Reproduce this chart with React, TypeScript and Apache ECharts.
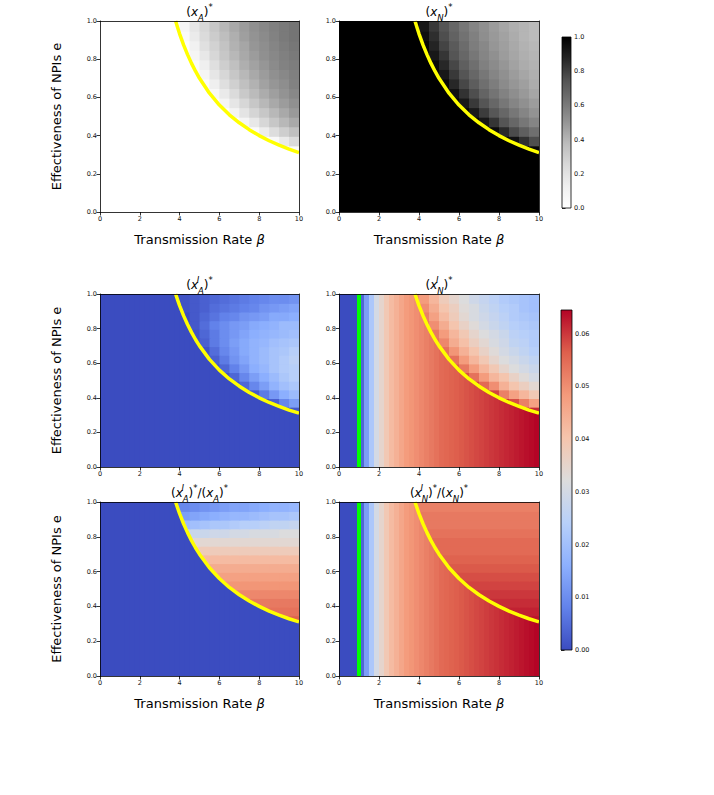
import React, { useEffect, useRef } from 'react';
import * as echarts from 'echarts';

// ---------- data ----------
// fine beta columns for the part of every panel that lies below the yellow curve
const BETA_FINE = [0.125, 0.375, 0.625, 0.875, 1.125, 1.375, 1.625, 1.875, 2.125, 2.375, 2.625, 2.875, 3.125, 3.375, 3.625, 3.875, 4.125, 4.375, 4.625, 4.875, 5.125, 5.375, 5.625, 5.875, 6.125, 6.375, 6.625, 6.875, 7.125, 7.375, 7.625, 7.875, 8.125, 8.375, 8.625, 8.875, 9.125, 9.375, 9.625, 9.875];
// cells for the part above the yellow curve
const BETA_CELLS = [0.25, 0.75, 1.25, 1.75, 2.25, 2.75, 3.25, 3.75, 4.25, 4.75, 5.25, 5.75, 6.25, 6.75, 7.25, 7.75, 8.25, 8.75, 9.25, 9.75];
const E_CELLS = [0.025, 0.075, 0.125, 0.175, 0.225, 0.275, 0.325, 0.375, 0.425, 0.475, 0.525, 0.575, 0.625, 0.675, 0.725, 0.775, 0.825, 0.875, 0.925, 0.975];

// yellow threshold curve
const CURVE_BETA = [3.8, 3.9, 4.0, 4.2, 4.4, 4.6, 4.8, 5.0, 5.5, 6.0, 6.5, 7.0, 7.5, 8.0, 8.5, 9.0, 9.5, 10.0];
const CURVE_E = [1.0, 0.966, 0.933, 0.875, 0.824, 0.778, 0.737, 0.70, 0.622, 0.56, 0.509, 0.467, 0.431, 0.40, 0.373, 0.35, 0.329, 0.311];
// green line at beta = 1
const GREEN_BETA = [1, 1];
const GREEN_E = [0, 1];

const CB1_TICKS = [0, 0.2, 0.4, 0.6, 0.8, 1.0];
const CB2_TICKS = [0, 0.01, 0.02, 0.03, 0.04, 0.05, 0.06];
const CB2_MAX = 0.0645;

// below-curve profiles (one value per BETA_FINE column)
const XA_BELOW = [0,0,0,0,0,0,0,0,0,0, 0,0,0,0,0,0,0,0,0,0, 0,0,0,0,0,0,0,0,0,0, 0,0,0,0,0,0,0,0,0,0];
const XN_BELOW = [1,1,1,1,1,1,1,1,1,1, 1,1,1,1,1,1,1,1,1,1, 1,1,1,1,1,1,1,1,1,1, 1,1,1,1,1,1,1,1,1,1];
const XAI_BELOW = [0,0,0,0,0,0,0,0,0,0, 0,0,0,0,0,0,0,0,0,0, 0,0,0,0,0,0,0,0,0,0, 0,0,0,0,0,0,0,0,0,0];
const XNI_BELOW = [0, 0, 0, 0, 0.004, 0.013, 0.022, 0.030, 0.035, 0.039, 0.042, 0.044, 0.046, 0.048, 0.049, 0.050, 0.051, 0.052, 0.053, 0.054, 0.055, 0.0555, 0.056, 0.0565, 0.057, 0.0575, 0.058, 0.0585, 0.059, 0.0595, 0.060, 0.0605, 0.061, 0.0615, 0.062, 0.0625, 0.063, 0.0635, 0.064, 0.0645];
const RA_BELOW = [0,0,0,0,0,0,0,0,0,0, 0,0,0,0,0,0,0,0,0,0, 0,0,0,0,0,0,0,0,0,0, 0,0,0,0,0,0,0,0,0,0];
const RN_BELOW = [0, 0, 0, 0, 0.004, 0.013, 0.022, 0.030, 0.035, 0.039, 0.042, 0.044, 0.046, 0.048, 0.049, 0.050, 0.051, 0.052, 0.053, 0.054, 0.055, 0.0555, 0.056, 0.0565, 0.057, 0.0575, 0.058, 0.0585, 0.059, 0.0595, 0.060, 0.0605, 0.061, 0.0615, 0.062, 0.0625, 0.063, 0.0635, 0.064, 0.0645];

// above-curve cells: rows = E_CELLS ascending, columns = BETA_CELLS; _ = cell entirely below the curve
const _ = null;
const XA_ABOVE = [
  [_,_,_,_,_, _,_,_,_,_, _,_,_,_,_, _,_,_,_,_],
  [_,_,_,_,_, _,_,_,_,_, _,_,_,_,_, _,_,_,_,_],
  [_,_,_,_,_, _,_,_,_,_, _,_,_,_,_, _,_,_,_,_],
  [_,_,_,_,_, _,_,_,_,_, _,_,_,_,_, _,_,_,_,_],
  [_,_,_,_,_, _,_,_,_,_, _,_,_,_,_, _,_,_,_,_],
  [_,_,_,_,_, _,_,_,_,_, _,_,_,_,_, _,_,_,_,_],
  [_,_,_,_,_, _,_,_,_,_, _,_,_,_,_, _,_,_,0.02,0.03],
  [_,_,_,_,_, _,_,_,_,_, _,_,_,_,_, _,0.02,0.06,0.16,0.24],
  [_,_,_,_,_, _,_,_,_,_, _,_,_,_,0.02, 0.04,0.14,0.23,0.30,0.36],
  [_,_,_,_,_, _,_,_,_,_, _,_,_,0.02,0.08, 0.17,0.26,0.33,0.39,0.44],
  [_,_,_,_,_, _,_,_,_,_, _,_,0.02,0.09,0.19, 0.27,0.33,0.39,0.44,0.49],
  [_,_,_,_,_, _,_,_,_,_, _,0.02,0.08,0.18,0.26, 0.33,0.39,0.44,0.48,0.52],
  [_,_,_,_,_, _,_,_,_,_, 0.02,0.06,0.16,0.24,0.32, 0.38,0.43,0.47,0.51,0.55],
  [_,_,_,_,_, _,_,_,_,_, 0.03,0.13,0.22,0.29,0.36, 0.41,0.46,0.50,0.53,0.57],
  [_,_,_,_,_, _,_,_,_,0.02, 0.08,0.18,0.26,0.33,0.39, 0.44,0.48,0.52,0.55,0.58],
  [_,_,_,_,_, _,_,_,_,0.03, 0.13,0.22,0.30,0.36,0.42, 0.46,0.50,0.54,0.57,0.59],
  [_,_,_,_,_, _,_,_,0.02,0.08, 0.17,0.26,0.33,0.39,0.44, 0.48,0.52,0.55,0.58,0.60],
  [_,_,_,_,_, _,_,_,0.02,0.12, 0.21,0.28,0.35,0.41,0.45, 0.50,0.53,0.56,0.59,0.61],
  [_,_,_,_,_, _,_,0.01,0.05,0.15, 0.24,0.31,0.37,0.42,0.47, 0.51,0.54,0.57,0.60,0.62],
  [_,_,_,_,_, _,_,0.01,0.08,0.18, 0.26,0.33,0.39,0.44,0.48, 0.52,0.55,0.58,0.60,0.62],
];

const XN_ABOVE = [
  [_,_,_,_,_, _,_,_,_,_, _,_,_,_,_, _,_,_,_,_],
  [_,_,_,_,_, _,_,_,_,_, _,_,_,_,_, _,_,_,_,_],
  [_,_,_,_,_, _,_,_,_,_, _,_,_,_,_, _,_,_,_,_],
  [_,_,_,_,_, _,_,_,_,_, _,_,_,_,_, _,_,_,_,_],
  [_,_,_,_,_, _,_,_,_,_, _,_,_,_,_, _,_,_,_,_],
  [_,_,_,_,_, _,_,_,_,_, _,_,_,_,_, _,_,_,_,_],
  [_,_,_,_,_, _,_,_,_,_, _,_,_,_,_, _,_,_,0.98,0.97],
  [_,_,_,_,_, _,_,_,_,_, _,_,_,_,_, _,0.98,0.94,0.84,0.76],
  [_,_,_,_,_, _,_,_,_,_, _,_,_,_,0.98, 0.96,0.86,0.77,0.70,0.64],
  [_,_,_,_,_, _,_,_,_,_, _,_,_,0.98,0.92, 0.83,0.74,0.67,0.61,0.56],
  [_,_,_,_,_, _,_,_,_,_, _,_,0.98,0.91,0.81, 0.73,0.67,0.61,0.56,0.51],
  [_,_,_,_,_, _,_,_,_,_, _,0.98,0.92,0.82,0.74, 0.67,0.61,0.56,0.52,0.48],
  [_,_,_,_,_, _,_,_,_,_, 0.98,0.94,0.84,0.76,0.68, 0.62,0.57,0.53,0.49,0.45],
  [_,_,_,_,_, _,_,_,_,_, 0.97,0.87,0.78,0.71,0.64, 0.59,0.54,0.50,0.47,0.43],
  [_,_,_,_,_, _,_,_,_,0.98, 0.92,0.82,0.74,0.67,0.61, 0.56,0.52,0.48,0.45,0.42],
  [_,_,_,_,_, _,_,_,_,0.97, 0.87,0.78,0.70,0.64,0.58, 0.54,0.50,0.46,0.43,0.41],
  [_,_,_,_,_, _,_,_,0.98,0.92, 0.83,0.74,0.67,0.61,0.56, 0.52,0.48,0.45,0.42,0.40],
  [_,_,_,_,_, _,_,_,0.98,0.88, 0.79,0.72,0.65,0.59,0.55, 0.50,0.47,0.44,0.41,0.39],
  [_,_,_,_,_, _,_,0.99,0.95,0.85, 0.76,0.69,0.63,0.58,0.53, 0.49,0.46,0.43,0.40,0.38],
  [_,_,_,_,_, _,_,0.99,0.92,0.82, 0.74,0.67,0.61,0.56,0.52, 0.48,0.45,0.42,0.40,0.38],
];

const XAI_ABOVE = [
  [_,_,_,_,_, _,_,_,_,_, _,_,_,_,_, _,_,_,_,_],
  [_,_,_,_,_, _,_,_,_,_, _,_,_,_,_, _,_,_,_,_],
  [_,_,_,_,_, _,_,_,_,_, _,_,_,_,_, _,_,_,_,_],
  [_,_,_,_,_, _,_,_,_,_, _,_,_,_,_, _,_,_,_,_],
  [_,_,_,_,_, _,_,_,_,_, _,_,_,_,_, _,_,_,_,_],
  [_,_,_,_,_, _,_,_,_,_, _,_,_,_,_, _,_,_,_,_],
  [_,_,_,_,_, _,_,_,_,_, _,_,_,_,_, _,_,_,0.001,0.002],
  [_,_,_,_,_, _,_,_,_,_, _,_,_,_,_, _,0.001,0.003,0.009,0.013],
  [_,_,_,_,_, _,_,_,_,_, _,_,_,_,0.001, 0.002,0.007,0.012,0.016,0.019],
  [_,_,_,_,_, _,_,_,_,_, _,_,_,0.001,0.004, 0.009,0.013,0.017,0.020,0.022],
  [_,_,_,_,_, _,_,_,_,_, _,_,0.001,0.004,0.009, 0.013,0.016,0.019,0.022,0.024],
  [_,_,_,_,_, _,_,_,_,_, _,0.001,0.004,0.008,0.012, 0.016,0.018,0.021,0.023,0.024],
  [_,_,_,_,_, _,_,_,_,_, 0.001,0.003,0.007,0.011,0.014, 0.017,0.019,0.021,0.023,0.025],
  [_,_,_,_,_, _,_,_,_,_, 0.001,0.005,0.009,0.012,0.015, 0.017,0.019,0.021,0.022,0.024],
  [_,_,_,_,_, _,_,_,_,0.001, 0.003,0.007,0.010,0.013,0.015, 0.017,0.018,0.020,0.021,0.022],
  [_,_,_,_,_, _,_,_,_,0.001, 0.004,0.007,0.010,0.012,0.014, 0.016,0.017,0.018,0.019,0.020],
  [_,_,_,_,_, _,_,_,0.001,0.002, 0.005,0.008,0.010,0.012,0.013, 0.015,0.016,0.017,0.019,0.019],
  [_,_,_,_,_, _,_,_,0.000,0.002, 0.004,0.006,0.008,0.009,0.011, 0.012,0.013,0.015,0.015,0.016],
  [_,_,_,_,_, _,_,0.000,0.001,0.002, 0.003,0.005,0.006,0.007,0.008, 0.009,0.011,0.012,0.013,0.014],
  [_,_,_,_,_, _,_,0.000,0.001,0.002, 0.003,0.004,0.005,0.006,0.007, 0.008,0.009,0.010,0.010,0.011],
];

const XNI_ABOVE = [
  [_,_,_,_,_, _,_,_,_,_, _,_,_,_,_, _,_,_,_,_],
  [_,_,_,_,_, _,_,_,_,_, _,_,_,_,_, _,_,_,_,_],
  [_,_,_,_,_, _,_,_,_,_, _,_,_,_,_, _,_,_,_,_],
  [_,_,_,_,_, _,_,_,_,_, _,_,_,_,_, _,_,_,_,_],
  [_,_,_,_,_, _,_,_,_,_, _,_,_,_,_, _,_,_,_,_],
  [_,_,_,_,_, _,_,_,_,_, _,_,_,_,_, _,_,_,_,_],
  [_,_,_,_,_, _,_,_,_,_, _,_,_,_,_, _,_,_,0.062,0.061],
  [_,_,_,_,_, _,_,_,_,_, _,_,_,_,_, _,0.061,0.058,0.052,0.047],
  [_,_,_,_,_, _,_,_,_,_, _,_,_,_,0.060, 0.059,0.052,0.047,0.043,0.039],
  [_,_,_,_,_, _,_,_,_,_, _,_,_,0.059,0.055, 0.050,0.044,0.040,0.037,0.034],
  [_,_,_,_,_, _,_,_,_,_, _,_,0.058,0.054,0.048, 0.043,0.040,0.036,0.033,0.030],
  [_,_,_,_,_, _,_,_,_,_, _,0.057,0.053,0.048,0.043, 0.039,0.035,0.032,0.030,0.028],
  [_,_,_,_,_, _,_,_,_,_, 0.056,0.054,0.048,0.043,0.039, 0.035,0.032,0.030,0.028,0.026],
  [_,_,_,_,_, _,_,_,_,_, 0.054,0.049,0.044,0.040,0.036, 0.033,0.030,0.028,0.026,0.024],
  [_,_,_,_,_, _,_,_,_,0.054, 0.051,0.045,0.041,0.037,0.034, 0.031,0.029,0.026,0.025,0.023],
  [_,_,_,_,_, _,_,_,_,0.053, 0.048,0.043,0.039,0.035,0.032, 0.030,0.028,0.025,0.024,0.023],
  [_,_,_,_,_, _,_,_,0.053,0.050, 0.045,0.040,0.036,0.033,0.030, 0.028,0.026,0.024,0.023,0.022],
  [_,_,_,_,_, _,_,_,0.052,0.047, 0.042,0.038,0.034,0.031,0.029, 0.027,0.025,0.023,0.022,0.021],
  [_,_,_,_,_, _,_,0.052,0.050,0.045, 0.040,0.037,0.033,0.031,0.028, 0.026,0.024,0.023,0.021,0.020],
  [_,_,_,_,_, _,_,0.051,0.048,0.043, 0.038,0.035,0.032,0.029,0.027, 0.025,0.023,0.022,0.021,0.020],
];

const RA_ABOVE = [
  [_,_,_,_,_, _,_,_,_,_, _,_,_,_,_, _,_,_,_,_],
  [_,_,_,_,_, _,_,_,_,_, _,_,_,_,_, _,_,_,_,_],
  [_,_,_,_,_, _,_,_,_,_, _,_,_,_,_, _,_,_,_,_],
  [_,_,_,_,_, _,_,_,_,_, _,_,_,_,_, _,_,_,_,_],
  [_,_,_,_,_, _,_,_,_,_, _,_,_,_,_, _,_,_,_,_],
  [_,_,_,_,_, _,_,_,_,_, _,_,_,_,_, _,_,_,_,_],
  [_,_,_,_,_, _,_,_,_,_, _,_,_,_,_, _,_,_,0.056,0.056],
  [_,_,_,_,_, _,_,_,_,_, _,_,_,_,_, _,0.054,0.054,0.054,0.054],
  [_,_,_,_,_, _,_,_,_,_, _,_,_,_,0.053, 0.053,0.053,0.053,0.053,0.053],
  [_,_,_,_,_, _,_,_,_,_, _,_,_,0.051,0.051, 0.051,0.051,0.051,0.051,0.051],
  [_,_,_,_,_, _,_,_,_,_, _,_,0.049,0.049,0.049, 0.049,0.049,0.049,0.049,0.049],
  [_,_,_,_,_, _,_,_,_,_, _,0.047,0.047,0.047,0.047, 0.047,0.047,0.047,0.047,0.047],
  [_,_,_,_,_, _,_,_,_,_, 0.045,0.045,0.045,0.045,0.045, 0.045,0.045,0.045,0.045,0.045],
  [_,_,_,_,_, _,_,_,_,_, 0.042,0.042,0.042,0.042,0.042, 0.042,0.042,0.042,0.042,0.042],
  [_,_,_,_,_, _,_,_,_,0.038, 0.038,0.038,0.038,0.038,0.038, 0.038,0.038,0.038,0.038,0.038],
  [_,_,_,_,_, _,_,_,_,0.034, 0.034,0.034,0.034,0.034,0.034, 0.034,0.034,0.034,0.034,0.034],
  [_,_,_,_,_, _,_,_,0.027,0.028, 0.028,0.029,0.029,0.030,0.030, 0.031,0.031,0.031,0.032,0.032],
  [_,_,_,_,_, _,_,_,0.019,0.020, 0.021,0.022,0.022,0.023,0.024, 0.024,0.025,0.026,0.026,0.027],
  [_,_,_,_,_, _,_,0.012,0.013,0.014, 0.015,0.016,0.017,0.018,0.018, 0.019,0.020,0.021,0.021,0.022],
  [_,_,_,_,_, _,_,0.008,0.009,0.010, 0.011,0.012,0.013,0.014,0.014, 0.015,0.016,0.017,0.017,0.018],
];

const RN_ABOVE = [
  [_,_,_,_,_, _,_,_,_,_, _,_,_,_,_, _,_,_,_,_],
  [_,_,_,_,_, _,_,_,_,_, _,_,_,_,_, _,_,_,_,_],
  [_,_,_,_,_, _,_,_,_,_, _,_,_,_,_, _,_,_,_,_],
  [_,_,_,_,_, _,_,_,_,_, _,_,_,_,_, _,_,_,_,_],
  [_,_,_,_,_, _,_,_,_,_, _,_,_,_,_, _,_,_,_,_],
  [_,_,_,_,_, _,_,_,_,_, _,_,_,_,_, _,_,_,_,_],
  [_,_,_,_,_, _,_,_,_,_, _,_,_,_,_, _,_,_,0.063,0.063],
  [_,_,_,_,_, _,_,_,_,_, _,_,_,_,_, _,0.062,0.062,0.062,0.062],
  [_,_,_,_,_, _,_,_,_,_, _,_,_,_,0.061, 0.061,0.061,0.061,0.061,0.061],
  [_,_,_,_,_, _,_,_,_,_, _,_,_,0.060,0.060, 0.060,0.060,0.060,0.060,0.060],
  [_,_,_,_,_, _,_,_,_,_, _,_,0.059,0.059,0.059, 0.059,0.059,0.059,0.059,0.059],
  [_,_,_,_,_, _,_,_,_,_, _,0.058,0.058,0.058,0.058, 0.058,0.058,0.058,0.058,0.058],
  [_,_,_,_,_, _,_,_,_,_, 0.057,0.057,0.057,0.057,0.057, 0.057,0.057,0.057,0.057,0.057],
  [_,_,_,_,_, _,_,_,_,_, 0.056,0.056,0.056,0.056,0.056, 0.056,0.056,0.056,0.056,0.056],
  [_,_,_,_,_, _,_,_,_,0.055, 0.055,0.055,0.055,0.055,0.055, 0.055,0.055,0.055,0.055,0.055],
  [_,_,_,_,_, _,_,_,_,0.055, 0.055,0.055,0.055,0.055,0.055, 0.055,0.055,0.055,0.055,0.055],
  [_,_,_,_,_, _,_,_,0.054,0.054, 0.054,0.054,0.054,0.054,0.054, 0.054,0.054,0.054,0.054,0.054],
  [_,_,_,_,_, _,_,_,0.053,0.053, 0.053,0.053,0.053,0.053,0.053, 0.053,0.053,0.053,0.053,0.053],
  [_,_,_,_,_, _,_,0.053,0.053,0.053, 0.053,0.053,0.053,0.053,0.053, 0.053,0.053,0.053,0.053,0.053],
  [_,_,_,_,_, _,_,0.052,0.052,0.052, 0.052,0.052,0.052,0.052,0.052, 0.052,0.052,0.052,0.052,0.052],
];

// ---------- styling / layout ----------
const FONT = 'DejaVu Sans';
const GREYS = ['#ffffff', '#f0f0f0', '#d9d9d9', '#bdbdbd', '#969696', '#737373', '#525252', '#252525', '#000000'];
const COOLWARM = ['#3b4cc0', '#6282ea', '#8db0fe', '#b8d0f9', '#dddcdc', '#f5c4ac', '#f49a7b', '#de604d', '#b40426'];

const PANELS = [
  { below: XA_BELOW, above: XA_ABOVE, cmap: 0, box: { left: 100, top: 21, width: 199, height: 191 }, title: '{n|(}{i|x}{sb|A}{n|)}{sp|*}', titleY: 12, xName: true, yName: true, green: false },
  { below: XN_BELOW, above: XN_ABOVE, cmap: 0, box: { left: 339, top: 21, width: 200, height: 191 }, title: '{n|(}{i|x}{sb|N}{n|)}{sp|*}', titleY: 12, xName: true, yName: false, green: false },
  { below: XAI_BELOW, above: XAI_ABOVE, cmap: 1, box: { left: 100, top: 294, width: 199, height: 173 }, title: '{n|(}{i|x}{sz|I}{sb|A}{n|)}{sp|*}', titleY: 285, xName: false, yName: true, green: false },
  { below: XNI_BELOW, above: XNI_ABOVE, cmap: 1, box: { left: 339, top: 294, width: 200, height: 173 }, title: '{n|(}{i|x}{sz|I}{sb|N}{n|)}{sp|*}', titleY: 285, xName: false, yName: false, green: true },
  { below: RA_BELOW, above: RA_ABOVE, cmap: 1, box: { left: 100, top: 502, width: 199, height: 174 }, title: '{n|(}{i|x}{sz|I}{sb|A}{n|)}{sp|*}{n|/(}{i|x}{sb|A}{n|)}{sp|*}', titleY: 493, xName: true, yName: true, green: false },
  { below: RN_BELOW, above: RN_ABOVE, cmap: 1, box: { left: 339, top: 502, width: 200, height: 174 }, title: '{n|(}{i|x}{sz|I}{sb|N}{n|)}{sp|*}{n|/(}{i|x}{sb|N}{n|)}{sp|*}', titleY: 493, xName: true, yName: false, green: true },
];

const CB1_BOX = { left: 562, top: 37, width: 9, height: 171 };
const CB2_BOX = { left: 561, top: 310, width: 11, height: 340 };

function aboveCells(grid: (number | null)[][]) {
  const out: number[][] = [];
  grid.forEach((row, j) => row.forEach((v, i) => { if (v !== null) out.push([BETA_CELLS[i], E_CELLS[j], v]); }));
  return out;
}
function belowCells(profile: number[]) {
  return profile.map((v, i) => [BETA_FINE[i], 0.5, v]);
}
// e of the yellow curve at beta (above the plot for beta left of its first point)
function curveE(b: number) {
  if (b < CURVE_BETA[0]) return Infinity;
  for (let k = 1; k < CURVE_BETA.length; k++) {
    if (b <= CURVE_BETA[k]) {
      const t = (b - CURVE_BETA[k - 1]) / (CURVE_BETA[k] - CURVE_BETA[k - 1]);
      return CURVE_E[k - 1] + t * (CURVE_E[k] - CURVE_E[k - 1]);
    }
  }
  return CURVE_E[CURVE_E.length - 1];
}

const TITLE_RICH = {
  n: { fontFamily: FONT, fontSize: 12, lineHeight: 20, fill: '#000' },
  i: { fontFamily: FONT, fontSize: 12, fontStyle: 'italic', lineHeight: 20, fill: '#000' },
  sb: { fontFamily: FONT, fontSize: 8.5, fontStyle: 'italic', lineHeight: 9, verticalAlign: 'bottom', fill: '#000' },
  sp: { fontFamily: FONT, fontSize: 8.5, lineHeight: 9, verticalAlign: 'top', fill: '#000' },
  sz: { fontFamily: FONT, fontSize: 8.5, fontStyle: 'italic', lineHeight: 9, verticalAlign: 'top', width: 0.01, fill: '#000' },
};

// overlap (px) that each cell reaches past its right / lower edge, so neighbours leave no seam
const SEAM = 1.2;
// sub-steps used to trace the curve across one cell when clipping it
const CLIP_STEPS = 12;

function buildOption() {
  const grids: any[] = [];
  const xAxes: any[] = [];
  const yAxes: any[] = [];
  const series: any[] = [];
  const greySeries: number[] = [];
  const cwSeries: number[] = [];
  const graphics: any[] = [];
  const cellW = BETA_CELLS[1] - BETA_CELLS[0];
  const cellH = E_CELLS[1] - E_CELLS[0];
  const fineW = BETA_FINE[1] - BETA_FINE[0];

  const labelStyle = { fontSize: 6.5, color: '#111', fontFamily: FONT, margin: 3 };
  const tickStyle = { show: true, length: 3.5, lineStyle: { color: '#000', width: 0.8 } };
  const lineStyle = { color: '#000', width: 0.8 };

  PANELS.forEach((p, k) => {
    grids.push({ ...p.box, containLabel: false });
    xAxes.push({
      type: 'value', gridIndex: k, position: 'bottom', min: 0, max: 10, interval: 2, z: 10,
      axisLine: { show: true, onZero: false, lineStyle },
      axisTick: tickStyle,
      axisLabel: labelStyle,
      splitLine: { show: false },
      name: p.xName ? '{n|Transmission Rate }{i|β}' : '',
      nameLocation: 'middle', nameGap: 21,
      nameTextStyle: {
        fontFamily: FONT, fontSize: 13, color: '#000',
        rich: {
          n: { fontFamily: FONT, fontSize: 13, color: '#000' },
          i: { fontFamily: FONT, fontSize: 13, fontStyle: 'italic', color: '#000' },
        },
      },
    });
    xAxes.push({
      type: 'value', gridIndex: k, position: 'top', min: 0, max: 10, z: 10,
      axisLine: { show: true, onZero: false, lineStyle },
      axisTick: { show: false }, axisLabel: { show: false }, splitLine: { show: false },
    });
    yAxes.push({
      type: 'value', gridIndex: k, position: 'left', min: 0, max: 1, interval: 0.2, z: 10,
      axisLine: { show: true, onZero: false, lineStyle },
      axisTick: tickStyle,
      axisLabel: { ...labelStyle, formatter: (v: number) => v.toFixed(1) },
      splitLine: { show: false },
      name: p.yName ? 'Effectiveness of NPIs e' : '',
      nameLocation: 'middle', nameGap: 37,
      nameTextStyle: { fontFamily: FONT, fontSize: 13, color: '#000' },
    });
    yAxes.push({
      type: 'value', gridIndex: k, position: 'right', min: 0, max: 1, z: 10,
      axisLine: { show: true, onZero: false, lineStyle },
      axisTick: { show: false }, axisLabel: { show: false }, splitLine: { show: false },
    });

    const group = p.cmap === 0 ? greySeries : cwSeries;
    // below-curve layer: full-height columns
    group.push(series.length);
    series.push({
      type: 'custom', xAxisIndex: 2 * k, yAxisIndex: 2 * k, data: belowCells(p.below),
      encode: { x: 0, y: 1 }, clip: true, silent: true, z: 1,
      renderItem: (_params: any, api: any) => {
        const b = api.value(0);
        const a = api.coord([b - fineW / 2, 1]);
        const c = api.coord([b + fineW / 2, 0]);
        return {
          type: 'rect',
          shape: { x: a[0], y: a[1], width: c[0] - a[0] + SEAM, height: c[1] - a[1] },
          style: { fill: api.visual('color') },
        };
      },
    });
    // above-curve layer: cells clipped to the region above the curve
    group.push(series.length);
    series.push({
      type: 'custom', xAxisIndex: 2 * k, yAxisIndex: 2 * k, data: aboveCells(p.above),
      encode: { x: 0, y: 1 }, clip: true, silent: true, z: 2,
      renderItem: (_params: any, api: any) => {
        const b = api.value(0);
        const e = api.value(1);
        const b0 = b - cellW / 2, b1 = b + cellW / 2, e0 = e - cellH / 2, e1 = e + cellH / 2;
        const xs: number[] = [];
        for (let s = 0; s <= CLIP_STEPS; s++) xs.push(b0 + (cellW * s) / CLIP_STEPS);
        CURVE_BETA.forEach((cb) => { if (cb > b0 && cb < b1) xs.push(cb); });
        xs.sort((u, v) => v - u);
        const pts: number[][] = [api.coord([b0, e1]), api.coord([b1, e1])];
        xs.forEach((x) => {
          const ec = Math.min(e1, Math.max(e0, curveE(x)));
          pts.push(api.coord([x, ec]));
        });
        const cc = api.coord([b, e]);
        const P = pts.map((q) => [q[0] + (q[0] > cc[0] ? SEAM : 0), q[1] + (q[1] > cc[1] ? SEAM : 0)]);
        return { type: 'polygon', shape: { points: P }, style: { fill: api.visual('color') } };
      },
    });
    if (p.green) {
      series.push({
        type: 'line', xAxisIndex: 2 * k, yAxisIndex: 2 * k, silent: true, z: 4,
        data: GREEN_BETA.map((b, i) => [b, GREEN_E[i]]),
        symbol: 'none', lineStyle: { color: '#00ff00', width: 4 },
      });
    }
    series.push({
      type: 'line', xAxisIndex: 2 * k, yAxisIndex: 2 * k, silent: true, z: 5,
      data: CURVE_BETA.map((b, i) => [b, CURVE_E[i]]),
      symbol: 'none', lineStyle: { color: '#ffff00', width: 3.5, join: 'round' },
    });

    graphics.push({
      type: 'text', x: p.box.left + p.box.width / 2, y: p.titleY, z: 20,
      style: { text: p.title, rich: TITLE_RICH, align: 'center', verticalAlign: 'middle', fill: '#000' },
    });
  });

  // colorbars
  [CB1_BOX, CB2_BOX].forEach((b, idx) => {
    const gi = PANELS.length + idx;
    grids.push({ ...b });
    xAxes.push({ type: 'value', gridIndex: gi, show: false, min: 0, max: 1 });
    yAxes.push(idx === 0 ? {
      type: 'value', gridIndex: gi, position: 'right', min: 0, max: 1, interval: 0.2,
      axisLine: { show: false }, axisTick: { ...tickStyle, customValues: CB1_TICKS },
      axisLabel: { ...labelStyle, customValues: CB1_TICKS, formatter: (v: number) => v.toFixed(1) },
      splitLine: { show: false },
    } : {
      type: 'value', gridIndex: gi, position: 'right', min: 0, max: CB2_MAX,
      axisLine: { show: false }, axisTick: { ...tickStyle, customValues: CB2_TICKS },
      axisLabel: { ...labelStyle, customValues: CB2_TICKS, formatter: (v: number) => v.toFixed(2) },
      splitLine: { show: false },
    });
    const cmap = idx === 0 ? GREYS : COOLWARM;
    const stops = cmap.map((c, i) => ({ offset: 1 - i / (cmap.length - 1), color: c })).reverse();
    graphics.push({
      type: 'rect', z: 10,
      shape: { x: b.left, y: b.top, width: b.width, height: b.height },
      style: { fill: new echarts.graphic.LinearGradient(0, 0, 0, 1, stops), stroke: '#000', lineWidth: 0.8 },
    });
  });

  return {
    animation: false,
    backgroundColor: '#ffffff',
    grid: grids,
    xAxis: xAxes,
    yAxis: yAxes,
    visualMap: [
      { type: 'continuous', show: false, seriesIndex: greySeries, dimension: 2, min: 0, max: 1, inRange: { color: GREYS } },
      { type: 'continuous', show: false, seriesIndex: cwSeries, dimension: 2, min: 0, max: CB2_MAX, inRange: { color: COOLWARM } },
    ],
    series,
    graphic: graphics,
  };
}

export default function App() {
  const ref = useRef<HTMLDivElement>(null);
  useEffect(() => {
    const chart = echarts.init(ref.current!, null, { renderer: 'svg' });
    chart.setOption(buildOption() as any);
    return () => chart.dispose();
  }, []);
  return <div ref={ref} style={{ position: 'absolute', left: 0, top: 0, width: 714, height: 795, background: '#fff' }} />;
}
